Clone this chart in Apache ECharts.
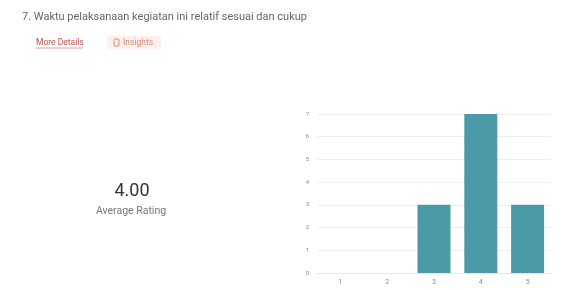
<!DOCTYPE html>
<html><head><meta charset="utf-8">
<script src="https://cdn.jsdelivr.net/npm/echarts@6/dist/echarts.min.js"></script>
<style>html,body{margin:0;padding:0;background:#fff}#c{width:569px;height:290px}</style>
</head><body><div id="c"></div>
<script>
const categories = ['1','2','3','4','5'];
const counts = [0,0,3,7,3];
const yTicks = [0,1,2,3,4,5,6,7];
const title = '7. Waktu pelaksanaan kegiatan ini relatif sesuai dan cukup';
const avgValue = '4.00';
const avgLabel = 'Average Rating';

const chart = echarts.init(document.getElementById('c'), null, {renderer:'canvas'});
chart.setOption({
  backgroundColor:'#fff',
  animation:false,
  textStyle:{fontFamily:'Roboto, sans-serif'},
  grid:{left:317, right:18, top:114, bottom:17, containLabel:false},
  xAxis:{type:'category', data:categories,
    axisLine:{show:true, lineStyle:{color:'#e6e6e6'}},
    axisTick:{show:false},
    axisLabel:{color:'#888', fontSize:7, margin:6}},
  yAxis:{type:'value', min:yTicks[0], max:yTicks[yTicks.length-1], interval:1,
    axisLine:{show:false}, axisTick:{show:false},
    axisLabel:{color:'#888', fontSize:6, margin:8},
    splitLine:{lineStyle:{color:'#eeeeee'}}},
  series:[{type:'bar', data:counts, barWidth:33, itemStyle:{color:'#4a9ba7'}}],
  graphic:[
    {type:'text', x:22, y:17, style:{text:title, fontSize:11, fill:'#666', verticalAlign:'middle', fontFamily:'Roboto, sans-serif'}},
    {type:'rect', shape:{x:107, y:36, width:54, height:13, r:3}, style:{fill:'#fcefee'}},
    {type:'text', x:36, y:42.5, style:{text:'More Details', fontSize:8.5, fill:'#c0504d', verticalAlign:'middle', fontFamily:'Roboto, sans-serif'}},
    {type:'line', shape:{x1:36, y1:48, x2:83, y2:48}, style:{stroke:'#e0a09e', lineWidth:1}},
    {type:'rect', shape:{x:114, y:39, width:5, height:7, r:1}, style:{fill:'none', stroke:'#d88a6a', lineWidth:1}},
    {type:'text', x:123, y:42.5, style:{text:'Insights', fontSize:8.5, fill:'#d88a6a', verticalAlign:'middle', fontFamily:'Roboto, sans-serif'}},
    {type:'text', x:132, y:191, style:{text:avgValue, fontSize:18, fill:'#333', align:'center', verticalAlign:'middle', fontFamily:'Roboto, sans-serif'}},
    {type:'text', x:131, y:211, style:{text:avgLabel, fontSize:10.5, fill:'#777', align:'center', verticalAlign:'middle', fontFamily:'Roboto, sans-serif'}}
  ]
});
</script></body></html>
